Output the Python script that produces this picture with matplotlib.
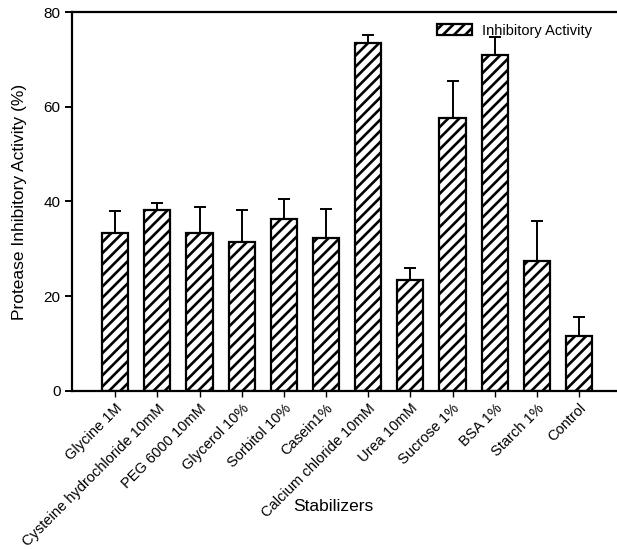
import numpy as np
import matplotlib.pyplot as plt

plt.rcParams['font.family'] = ['Liberation Sans', 'DejaVu Sans']
plt.rcParams['hatch.linewidth'] = 1.9

# Data
stabilizers = ["Glycine 1M", "Cysteine hydrochloride 10mM", "PEG 6000 10mM",
               "Glycerol 10%", "Sorbitol 10%", "Casein1%", "Calcium chloride 10mM",
               "Urea 10mM", "Sucrose 1%", "BSA 1%", "Starch 1%", "Control"]
activity = [33.3, 38.2, 33.3, 31.4, 36.2, 32.2, 73.4, 23.4, 57.7, 70.9, 27.4, 11.5]
err_upper = [4.7, 1.4, 5.6, 6.8, 4.3, 6.2, 1.8, 2.6, 7.7, 3.8, 8.5, 4.0]

x = np.arange(len(stabilizers))

fig = plt.figure(figsize=(6.17, 5.49), dpi=100)
ax = fig.add_axes([0.117, 0.288, 0.883, 0.69])

ax.bar(x, activity, width=0.62, color='white', edgecolor='black', linewidth=1.6,
       hatch='///', label='Inhibitory Activity', zorder=2)
ax.errorbar(x, activity, yerr=[np.zeros(len(x)), err_upper], fmt='none',
            ecolor='black', elinewidth=1.4, capsize=4.5, capthick=1.4, zorder=3)

ax.set_xlim(-1.02, 11.9)
ax.set_ylim(0, 80)
ax.set_yticks([0, 20, 40, 60, 80])
ax.set_xticks(x)
ax.set_xticklabels(stabilizers, rotation=45, ha='right', rotation_mode='anchor', fontsize=10.5)
ax.tick_params(axis='y', labelsize=11, direction='out', length=5, width=1.4)
ax.tick_params(axis='x', direction='out', length=4, width=1)

ax.spines['right'].set_visible(False)
for s in ['left', 'bottom', 'top']:
    ax.spines[s].set_linewidth(1.6)

ax.set_ylabel("Protease Inhibitory Activity (%)", fontsize=12.5)
ax.yaxis.set_label_coords(-0.083, 0.5)
ax.set_xlabel("Stabilizers", fontsize=12.5)
ax.xaxis.set_label_coords(0.48, -0.285)

ax.legend(loc='upper right', frameon=False, fontsize=10.5, handlelength=2.4,
          handleheight=0.8, handletextpad=0.7, borderaxespad=0,
          bbox_to_anchor=(0.965, 0.985))

plt.savefig("out.png", dpi=100)
